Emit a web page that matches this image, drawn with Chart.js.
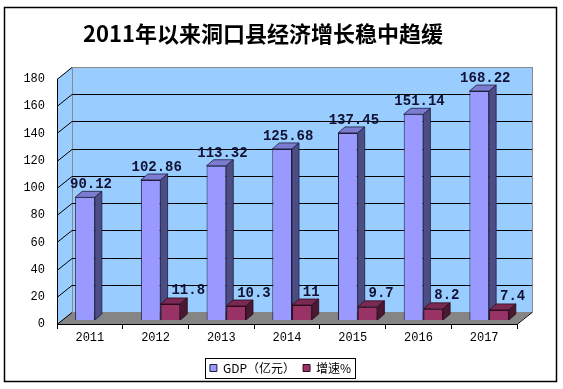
<!DOCTYPE html>
<html lang="zh-CN">
<head>
<meta charset="UTF-8">
<title>2011年以来洞口县经济增长稳中趋缓</title>
<script src="https://cdn.jsdelivr.net/npm/chart.js"></script>
<style>
    * { margin: 0; padding: 0; box-sizing: border-box; }
    body { background: #fff; width: 563px; height: 389px; overflow: hidden; }
</style>
</head>
<body>
<canvas id="gdpChart" width="563" height="389"></canvas>

<script>
    // data
    const years = ['2011', '2012', '2013', '2014', '2015', '2016', '2017'];
    const gdpValues = [90.12, 102.86, 113.32, 125.68, 137.45, 151.14, 168.22];
    const growthValues = [null, 11.8, 10.3, 11, 9.7, 8.2, 7.4];
    const yTicks = [0, 20, 40, 60, 80, 100, 120, 140, 160, 180];

    // 3D look: wall depth, where the bar row stands, bar thickness
    const WALL_DX = 15, WALL_DY = -12;
    const BAR_DX = 5, BAR_DY = -4;
    const SIDE_DX = 7, SIDE_DY = -6;

    const faces = [
        { top: '#7b7bcf', side: '#4d4d86', edge: '#1e1e3c' },
        { top: '#7a2952', side: '#4a1831', edge: '#2a0d1c' }
    ];

    function drawFaces(ctx, chart, di) {
        const f = faces[di];
        const data = chart.data.datasets[di].data;
        ctx.save();
        ctx.lineWidth = 0.8;
        ctx.strokeStyle = f.edge;
        chart.getDatasetMeta(di).data.forEach((bar, i) => {
            if (data[i] == null) return;
            const p = bar.getProps(['x', 'y', 'base', 'width'], true);
            const l = p.x - p.width / 2, r = p.x + p.width / 2;
            // top face
            ctx.fillStyle = f.top;
            ctx.beginPath();
            ctx.moveTo(l, p.y);
            ctx.lineTo(r, p.y);
            ctx.lineTo(r + SIDE_DX, p.y + SIDE_DY);
            ctx.lineTo(l + SIDE_DX, p.y + SIDE_DY);
            ctx.closePath();
            ctx.fill();
            ctx.stroke();
            // side face
            ctx.fillStyle = f.side;
            ctx.beginPath();
            ctx.moveTo(r, p.y);
            ctx.lineTo(r + SIDE_DX, p.y + SIDE_DY);
            ctx.lineTo(r + SIDE_DX, p.base + SIDE_DY);
            ctx.lineTo(r, p.base);
            ctx.closePath();
            ctx.fill();
            ctx.stroke();
        });
        ctx.restore();
    }

    const threeD = {
        id: 'threeD',
        afterLayout(chart) {
            // legend sits centred in the frame, boxed
            const lg = chart.legend;
            const dx = 280.5 - (lg.left + lg.right) / 2;
            const dy = 354 - lg.top;
            lg.left += dx; lg.right += dx;
            lg.top += dy; lg.bottom += dy;
        },
        beforeDraw(chart) {
            const ctx = chart.ctx;
            const a = chart.chartArea;
            const y = chart.scales.y;
            ctx.save();

            // outer frame
            ctx.strokeStyle = '#000';
            ctx.lineWidth = 1.5;
            ctx.strokeRect(4.5, 7.5, 552, 374);

            // left wall and back wall
            ctx.fillStyle = '#99ccff';
            ctx.beginPath();
            ctx.moveTo(a.left, a.top);
            ctx.lineTo(a.left + WALL_DX, a.top + WALL_DY);
            ctx.lineTo(a.left + WALL_DX, a.bottom + WALL_DY);
            ctx.lineTo(a.left, a.bottom);
            ctx.closePath();
            ctx.fill();
            ctx.fillRect(a.left + WALL_DX, a.top + WALL_DY, a.width, a.height);
            ctx.strokeStyle = '#8a8a8a';
            ctx.lineWidth = 1;
            ctx.strokeRect(a.left + WALL_DX + 0.5, a.top + WALL_DY + 0.5, a.width, a.height);

            // floor
            ctx.fillStyle = '#858585';
            ctx.beginPath();
            ctx.moveTo(a.left, a.bottom);
            ctx.lineTo(a.right, a.bottom);
            ctx.lineTo(a.right + WALL_DX, a.bottom + WALL_DY);
            ctx.lineTo(a.left + WALL_DX, a.bottom + WALL_DY);
            ctx.closePath();
            ctx.fill();

            // gridlines: diagonal on the left wall, flat on the back wall
            ctx.strokeStyle = '#000';
            y.ticks.forEach(t => {
                const py = Math.round(y.getPixelForValue(t.value)) + 0.5;
                ctx.beginPath();
                ctx.moveTo(a.left, py);
                ctx.lineTo(a.left + WALL_DX, py + WALL_DY);
                if (t.value > y.min && t.value < y.max) {
                    ctx.lineTo(a.right + WALL_DX, py + WALL_DY);
                }
                ctx.stroke();
            });
            ctx.beginPath();
            ctx.moveTo(a.right, a.bottom + 0.5);
            ctx.lineTo(a.right + WALL_DX, a.bottom + WALL_DY + 0.5);
            ctx.stroke();
            ctx.restore();
        },
        beforeDatasetsDraw(chart) {
            chart.ctx.save();
            chart.ctx.translate(BAR_DX, BAR_DY);
        },
        afterDatasetsDraw(chart) {
            const ctx = chart.ctx;
            // GDP boxes first, then the growth boxes standing in front of their sides
            drawFaces(ctx, chart, 0);
            const data = chart.data.datasets[1].data;
            chart.getDatasetMeta(1).data.forEach((bar, i) => {
                if (data[i] != null) bar.draw(ctx);
            });
            drawFaces(ctx, chart, 1);
            ctx.restore();
        },
        afterDraw(chart) {
            const ctx = chart.ctx;
            ctx.save();
            // value labels
            ctx.font = 'bold 14px "Liberation Mono", monospace';
            ctx.fillStyle = '#111133';
            ctx.textBaseline = 'middle';
            chart.data.datasets.forEach((ds, di) => {
                chart.getDatasetMeta(di).data.forEach((bar, i) => {
                    if (ds.data[i] == null) return;
                    if (di === 0) {
                        ctx.textAlign = 'center';
                        ctx.fillText(String(ds.data[i]), bar.x + 11, bar.y - 16.5);
                    } else {
                        ctx.textAlign = 'left';
                        ctx.fillText(String(ds.data[i]), bar.x + 6, bar.y - 17);
                    }
                });
            });
            // box round the legend
            const hb = chart.legend.legendHitBoxes;
            if (hb.length) {
                const first = hb[0], last = hb[hb.length - 1];
                const x0 = Math.round(first.left - 5) + 0.5;
                const x1 = Math.round(last.left + last.width + 4) + 0.5;
                const y0 = Math.round(first.top - 4) + 0.5;
                const y1 = Math.round(first.top + first.height + 4) + 0.5;
                ctx.strokeStyle = '#000';
                ctx.lineWidth = 1;
                ctx.strokeRect(x0, y0, x1 - x0, y1 - y0);
            }
            ctx.restore();
        }
    };

    const axisFont = { family: '"Liberation Mono", monospace', size: 12 };

    new Chart(document.getElementById('gdpChart'), {
        type: 'bar',
        data: {
            labels: years,
            datasets: [
                {
                    label: 'GDP（亿元）',
                    data: gdpValues,
                    backgroundColor: '#9999ff',
                    borderColor: '#1e1e3c',
                    borderWidth: 1,
                    clip: false
                },
                {
                    label: '增速%',
                    data: growthValues,
                    backgroundColor: '#993366',
                    borderColor: '#2a0d1c',
                    borderWidth: 1,
                    clip: false
                }
            ]
        },
        options: {
            responsive: false,
            animation: false,
            devicePixelRatio: 1,
            layout: { padding: { left: 9, right: 46, top: 8, bottom: 0 } },
            datasets: { bar: { categoryPercentage: 0.6, barPercentage: 1 } },
            plugins: {
                title: {
                    display: true,
                    text: '2011年以来洞口县经济增长稳中趋缓',
                    color: '#000',
                    font: { family: '"Noto Sans CJK SC", sans-serif', size: 22, weight: 'bold' },
                    padding: { top: 12, bottom: 32.6 }
                },
                legend: {
                    position: 'bottom',
                    labels: {
                        color: '#000',
                        boxWidth: 7,
                        boxHeight: 7,
                        padding: 8,
                        font: { family: '"Noto Sans CJK SC", sans-serif', size: 12 }
                    }
                },
                tooltip: { enabled: false }
            },
            scales: {
                x: {
                    grid: { display: true, drawOnChartArea: false, drawTicks: true, tickLength: 5, color: '#000', offset: true },
                    border: { display: true, color: '#000', width: 1 },
                    ticks: { color: '#000', font: axisFont, padding: 2, maxRotation: 0 },
                    afterFit(s) { s.height = 35; }
                },
                y: {
                    min: yTicks[0],
                    max: yTicks[yTicks.length - 1],
                    grid: { display: false },
                    border: { display: true, color: '#000', width: 1 },
                    ticks: { stepSize: yTicks[1] - yTicks[0], color: '#000', font: axisFont, padding: 4 },
                    afterFit(s) { s.width = 48; }
                }
            }
        },
        plugins: [threeD]
    });
</script>
</body>
</html>
